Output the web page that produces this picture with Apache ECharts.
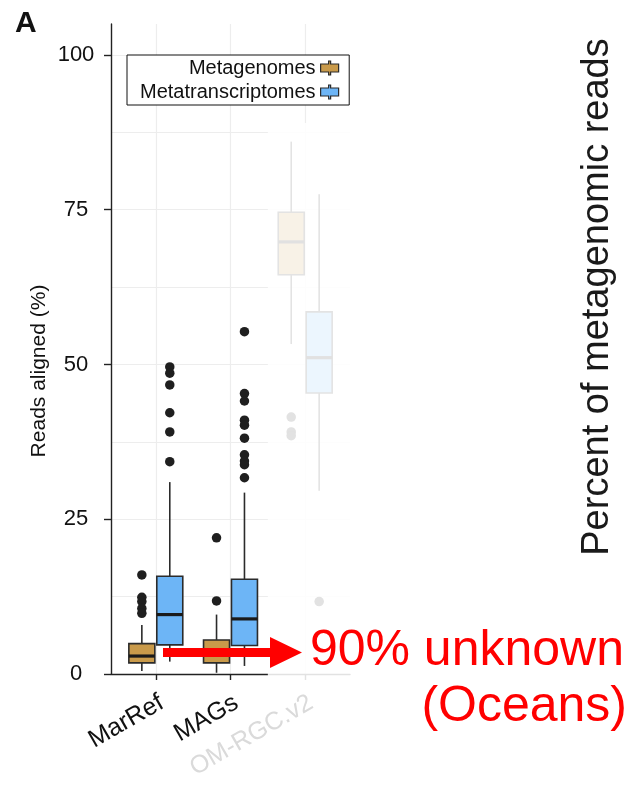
<!DOCTYPE html>
<html>
<head>
<meta charset="utf-8">
<script src="https://cdn.jsdelivr.net/npm/echarts@6/dist/echarts.min.js"></script>
<style>
  html, body { margin: 0; padding: 0; background: #fff; }
  #main { width: 630px; height: 785px; }
</style>
</head>
<body>
<div id="main"></div>
<script>
var categories = ['MarRef', 'MAGs', 'OM-RGC.v2'];

// [low whisker, Q1, median, Q3, high whisker], one row per category
var metagenomeBoxes = [
  [0.5, 1.8, 2.9, 4.9, 7.9],
  [0.2, 1.8, 3.8, 5.5, 9.6],
  [53.3, 64.5, 69.8, 74.6, 86.0]
];
var metatranscriptomeBoxes = [
  [2.0, 4.7, 9.6, 15.8, 31.0],
  [1.3, 4.6, 8.9, 15.3, 29.3],
  [29.6, 45.4, 51.1, 58.5, 77.5]
];
var metagenomeOutliers = [
  [16.0, 12.4, 11.7, 10.6, 9.8],
  [22.0, 11.8],
  [41.5, 39.1, 38.5]
];
var metatranscriptomeOutliers = [
  [49.6, 48.6, 46.7, 42.2, 39.1, 34.3],
  [55.3, 45.3, 44.1, 41.0, 40.2, 38.1, 35.4, 34.4, 33.8, 31.7],
  [11.7]
];
var yTicks = [0, 25, 50, 75, 100];
var yGrid = [0, 12.5, 25, 37.5, 50, 62.5, 75, 87.5, 100];

var GOLD = '#c99a4a';
var BLUE = '#6db5f6';
var DODGE = 0.187;   // half distance between the two boxes, in category units
var HALF = 0.174;    // half box width
var LABEL_SHIFT = 0.08; // rotated labels sit a little right of their tick

var chartDom = document.getElementById('main');
var myChart = echarts.init(chartDom);

function boxData(rows) {
  return rows.map(function (r, i) { return [i].concat(r); });
}
function outlierData(rows, offset) {
  var out = [];
  rows.forEach(function (vals, i) {
    vals.forEach(function (v) { out.push([i + offset, v]); });
  });
  return out;
}

function boxRenderer(offset, fill) {
  return function (params, api) {
    var x = api.value(0) + offset;
    var left = api.coord([x - HALF, 0])[0];
    var right = api.coord([x + HALF, 0])[0];
    var mid = api.coord([x, 0])[0];
    var yLow = api.coord([x, api.value(1)])[1];
    var yQ1 = api.coord([x, api.value(2)])[1];
    var yMed = api.coord([x, api.value(3)])[1];
    var yQ3 = api.coord([x, api.value(4)])[1];
    var yHigh = api.coord([x, api.value(5)])[1];
    var line = { stroke: '#2b2b2b', lineWidth: 1.6 };
    return {
      type: 'group',
      children: [
        { type: 'line', shape: { x1: mid, y1: yHigh, x2: mid, y2: yQ3 }, style: line },
        { type: 'line', shape: { x1: mid, y1: yQ1, x2: mid, y2: yLow }, style: line },
        { type: 'rect', shape: { x: left, y: yQ3, width: right - left, height: yQ1 - yQ3 },
          style: { fill: fill, stroke: '#2b2b2b', lineWidth: 1.6 } },
        { type: 'line', shape: { x1: left, y1: yMed, x2: right, y2: yMed },
          style: { stroke: '#1a1a1a', lineWidth: 3.2 } }
      ]
    };
  };
}

var boxIcon = 'path://M8,0L10,0L10,3L18,3L18,11L10,11L10,14L8,14L8,11L0,11L0,3L8,3Z';
var FONT = 'Liberation Sans, Arial, Helvetica, sans-serif';
var catIdx = categories.map(function (c, i) { return i; });

var option = {
  animation: false,
  textStyle: { fontFamily: FONT },
  grid: { left: 111, width: 239, top: 24, bottom: 111, outerBoundsMode: 'none' },
  legend: {
    left: 127,
    top: 55,
    orient: 'vertical',
    align: 'right',
    itemWidth: 18,
    itemHeight: 15,
    itemGap: 4,
    padding: [3, 10, 3, 13],
    borderColor: '#111',
    borderWidth: 1,
    backgroundColor: '#fff',
    itemStyle: { borderColor: '#2b2b2b', borderWidth: 1.2 },
    textStyle: { fontSize: 20, color: '#111', width: 175, align: 'right', fontFamily: FONT },
    data: [
      { name: 'Metagenomes', icon: boxIcon },
      { name: 'Metatranscriptomes', icon: boxIcon }
    ],
    z: 20
  },
  xAxis: {
    type: 'value',
    min: -0.6,
    max: 2.6,
    axisLine: { show: true, onZero: false, lineStyle: { color: '#222', width: 1.4 } },
    axisTick: { show: true, customValues: catIdx, length: 6, lineStyle: { color: '#222', width: 1.4 } },
    axisLabel: {
      customValues: catIdx.map(function (i) { return i + LABEL_SHIFT; }),
      rotate: 30,
      margin: 27,
      fontSize: 25,
      color: '#111',
      formatter: function (v) {
        var i = Math.round(v);
        return i === 2 ? '{faded|' + categories[i] + '}' : categories[i];
      },
      rich: { faded: { color: '#dadada', fontSize: 25 } }
    },
    splitLine: { show: true, lineStyle: { color: '#ededed', width: 1.2 } }
  },
  yAxis: [
    {
      type: 'value',
      min: 0,
      max: 105,
      name: 'Reads aligned (%)',
      nameLocation: 'middle',
      nameGap: 61,
      nameTextStyle: { fontSize: 21, color: '#111', padding: [0, 44, 0, 0] },
      axisLine: { show: true, onZero: false, lineStyle: { color: '#222', width: 1.4 } },
      axisTick: { show: true, customValues: yTicks, length: 7, lineStyle: { color: '#222', width: 1.4 } },
      axisLabel: { customValues: yTicks, fontSize: 22, color: '#111', align: 'center', margin: 35 },
      splitLine: { show: false }
    },
    {
      type: 'value',
      min: 0,
      max: 105,
      axisLine: { show: false },
      axisTick: { show: false, customValues: yGrid },
      axisLabel: { show: false, customValues: yGrid },
      splitLine: { show: true, lineStyle: { color: '#ededed', width: 1.2 } }
    }
  ],
  series: [
    {
      name: 'Metagenomes',
      type: 'custom',
      itemStyle: { color: GOLD },
      renderItem: boxRenderer(-DODGE, GOLD),
      encode: { x: 0, y: [1, 2, 3, 4, 5] },
      data: boxData(metagenomeBoxes),
      z: 5
    },
    {
      name: 'Metatranscriptomes',
      type: 'custom',
      itemStyle: { color: BLUE },
      renderItem: boxRenderer(DODGE, BLUE),
      encode: { x: 0, y: [1, 2, 3, 4, 5] },
      data: boxData(metatranscriptomeBoxes),
      z: 5
    },
    {
      name: 'Metagenome outliers',
      type: 'scatter',
      symbolSize: 9.5,
      itemStyle: { color: '#1f1f1f', opacity: 1 },
      data: outlierData(metagenomeOutliers, -DODGE),
      z: 6
    },
    {
      name: 'Metatranscriptome outliers',
      type: 'scatter',
      symbolSize: 9.5,
      itemStyle: { color: '#1f1f1f', opacity: 1 },
      data: outlierData(metatranscriptomeOutliers, DODGE),
      z: 6
    }
  ]
};

myChart.setOption(option);

// fade the OM-RGC.v2 column like the reference
var tl = myChart.convertToPixel({ xAxisIndex: 0, yAxisIndex: 0 }, [1.5, 89]);
var br = myChart.convertToPixel({ xAxisIndex: 0, yAxisIndex: 0 }, [2.6, 0]);

myChart.setOption({
  graphic: {
    elements: [
      {
        type: 'rect',
        shape: { x: tl[0], y: tl[1], width: br[0] - tl[0] + 3, height: br[1] - tl[1] + 14 },
        style: { fill: '#ffffff', opacity: 0.87 },
        z: 50
      },
      {
        type: 'text', left: 15, top: 9, z: 60,
        style: { text: 'A', font: 'bold 30px ' + FONT, fill: '#111' }
      },
      {
        type: 'text', x: 598, y: 297, rotation: Math.PI / 2, z: 60,
        style: { text: 'Percent of metagenomic reads', font: '38px ' + FONT, fill: '#1a1a1a',
          align: 'center', verticalAlign: 'middle' }
      },
      {
        type: 'polygon', z: 60,
        shape: { points: [[163, 648], [270, 648], [270, 637], [302, 652.5], [270, 668], [270, 657], [163, 657]] },
        style: { fill: '#ff0000' }
      },
      {
        type: 'text', x: 624, y: 651, z: 60,
        style: { text: '90% unknown', font: '50px ' + FONT, fill: '#ff0000', align: 'right', verticalAlign: 'middle' }
      },
      {
        type: 'text', x: 627, y: 707, z: 60,
        style: { text: '(Oceans)', font: '50px ' + FONT, fill: '#ff0000', align: 'right', verticalAlign: 'middle' }
      }
    ]
  }
});
</script>
</body>
</html>
